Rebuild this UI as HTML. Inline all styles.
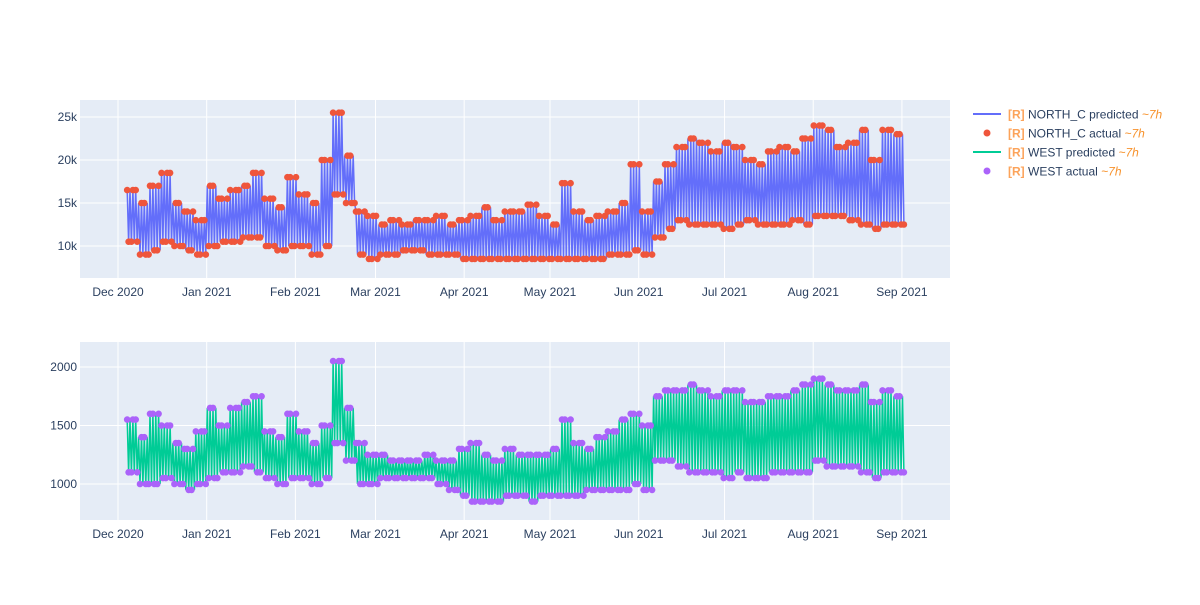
<!DOCTYPE html>
<html><head><meta charset="utf-8"><style>
body{margin:0;background:#fff;font-family:"Liberation Sans",sans-serif}
svg text{font-family:"Liberation Sans",sans-serif}
</style></head><body>
<svg id="chart" width="1200" height="600" viewBox="0 0 1200 600" xmlns="http://www.w3.org/2000/svg">
<rect width="1200" height="600" fill="#fff"/>
<g id="top"></g>
<g id="bot"></g>
<g id="legend"></g>
</svg>
<script>
const monthLabels=["Dec 2020","Jan 2021","Feb 2021","Mar 2021","Apr 2021","May 2021","Jun 2021","Jul 2021","Aug 2021","Sep 2021"];
const monthDays=[0,31,62,90,121,151,182,212,243,274];
const topTicks=[10000,15000,20000,25000];
const topTickLabels=["10k","15k","20k","25k"];
const botTicks=[1000,1500,2000];
const botTickLabels=["1000","1500","2000"];
const startDay=3;
const binDays=4;
const northHi=[16.5,15,17,18.5,15,14,13,17,15.5,16.5,17,18.5,15.5,14.5,18,16,15,20,25.5,20.5,14,13.5,12.5,13,12.5,13,13,13.5,12.5,13,13.5,14.5,13,14,14,14.8,13.5,12.5,17.3,14,13,13.5,14,15,19.5,14,17.5,19.5,21.5,22.5,22,21,22,21.5,20,19.5,21,21.5,21,22.5,24,23.5,21.5,22,23.5,20,23.5,23];
const northLo=[10.5,9,9.5,10.5,10,9.5,9,10,10.5,10.5,11,11,10,9.5,10,10,9,10,16,15,9,8.5,9,9,9.5,9.5,9,9,9,8.5,8.5,8.5,8.5,8.5,8.5,8.5,8.5,8.5,8.5,8.5,8.5,8.5,9,9,9.5,9,11,12,13,12.5,12.5,12.5,12,12.5,13,12.5,12.5,12.5,13,12.5,13.5,13.5,13.5,13,12.5,12,12.5,12.5];
const westHi=[1550,1400,1600,1500,1350,1300,1450,1650,1500,1650,1700,1750,1450,1400,1600,1450,1350,1500,2050,1650,1350,1250,1250,1200,1200,1200,1250,1200,1200,1300,1350,1250,1200,1300,1250,1250,1250,1300,1550,1350,1300,1400,1450,1550,1600,1500,1750,1800,1800,1850,1800,1750,1800,1800,1700,1700,1750,1750,1800,1850,1900,1850,1800,1800,1850,1700,1800,1750];
const westLo=[1100,1000,1000,1050,1000,950,1000,1050,1100,1100,1150,1100,1050,1000,1050,1050,1000,1050,1350,1200,1000,1000,1050,1050,1050,1050,1050,1000,950,900,850,850,850,900,900,850,900,900,900,900,950,950,950,950,1000,950,1200,1200,1150,1100,1100,1100,1050,1100,1050,1050,1100,1100,1100,1100,1200,1150,1150,1150,1100,1050,1100,1100];

const NS="http://www.w3.org/2000/svg";
function mk(tag,attrs,parent){const e=document.createElementNS(NS,tag);for(const k in attrs)e.setAttribute(k,attrs[k]);parent.appendChild(e);return e;}
const xScale=d=>118+d*2.861;
const X0=80,X1=950;
function panel(g,y0,y1,yScale,ticks,tickLabels,hi,lo,mult,lineColor,dotColor,nm){
  const bg=mk('rect',{x:X0,y:y0,width:X1-X0,height:y1-y0,fill:'#e5ecf6'},g);
  
  
  monthDays.forEach((d,i)=>{
    const l=mk('line',{x1:xScale(d),x2:xScale(d),y1:y0,y2:y1,stroke:'#fff','stroke-width':1},g);
    
    
    const t=mk('text',{x:xScale(d),y:y1+18,'text-anchor':'middle','font-size':12,fill:'#2a3f5f'},g);
    t.textContent=monthLabels[i];
    
    
  });
  ticks.forEach((v,i)=>{
    const y=yScale(v);
    const l=mk('line',{x1:X0,x2:X1,y1:y,y2:y,stroke:'#fff','stroke-width':1},g);
    
    
    const t=mk('text',{x:X0-3,y:y+4,'text-anchor':'end','font-size':12,fill:'#2a3f5f'},g);
    t.textContent=tickLabels[i];
    
    
  });
  const pts=[];
  const nDays=hi.length*binDays;
  for(let d=0;d<nDays;d++){
    const b=Math.floor(d/binDays);
    pts.push([xScale(startDay+d+0.2),yScale(hi[b]*mult)]);
    pts.push([xScale(startDay+d+0.7),yScale(lo[b]*mult)]);
  }
  const p=mk('polyline',{points:pts.map(q=>q[0].toFixed(1)+','+q[1].toFixed(1)).join(' '),fill:'none',stroke:lineColor,'stroke-width':1.5},g);
  
  
  const dg=mk('g',{fill:dotColor},g);
  
  
  pts.forEach((q,i)=>{ if(i%3!==2){
    const c=mk('circle',{cx:q[0].toFixed(1),cy:q[1].toFixed(1),r:3.3},dg);
    
    
  }});
}
panel(document.getElementById('top'),100,278,v=>246-(v-10000)*0.0086,topTicks,topTickLabels,northHi,northLo,1000,'#636efa','#ef553b','north-c');
panel(document.getElementById('bot'),342,520,v=>484-(v-1000)*0.117,botTicks,botTickLabels,westHi,westLo,1,'#00cc96','#ab63fa','west');

const legendItems=[["line","#636efa","NORTH_C predicted"],["dot","#ef553b","NORTH_C actual"],["line","#00cc96","WEST predicted"],["dot","#ab63fa","WEST actual"]];
const lg=document.getElementById('legend');
legendItems.forEach((it,i)=>{
  const y=114+i*19;
  const g=mk('g',{},lg);
  
  
  if(it[0]==='line') mk('line',{x1:973,x2:1001,y1:y,y2:y,stroke:it[1],'stroke-width':2},g);
  else mk('circle',{cx:987,cy:y,r:3.5,fill:it[1]},g);
  const t=mk('text',{x:1008,y:y+4.5,'font-size':12,fill:'#2a3f5f'},g);
  t.innerHTML='<tspan font-weight="bold" fill="#fca35a">[R]</tspan> '+it[2]+' <tspan font-style="italic" fill="#f7922c">~7h</tspan>';
});
</script>
</body></html>
